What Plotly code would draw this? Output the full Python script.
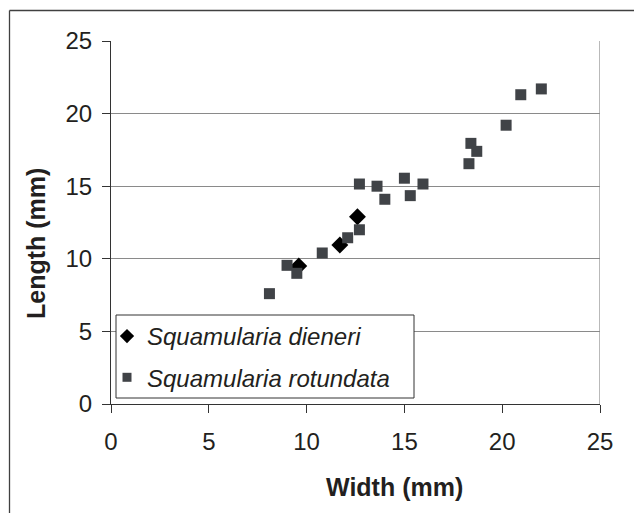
import plotly.graph_objects as go

# Data
dieneri_width = [9.6, 11.7, 12.6]
dieneri_length = [9.5, 10.95, 12.9]

rotundata_width = [8.1, 9.0, 9.5, 10.8, 12.1, 12.7, 12.7, 13.6, 14.0, 15.0, 15.3, 15.95,
                   18.3, 18.4, 18.7, 20.2, 20.95, 22.0]
rotundata_length = [7.6, 9.55, 9.0, 10.4, 11.45, 12.0, 15.15, 15.0, 14.1, 15.55, 14.35, 15.15,
                    16.55, 17.95, 17.4, 19.2, 21.3, 21.7]

series_names = ["Squamularia dieneri", "Squamularia rotundata"]
x_ticks = [0, 5, 10, 15, 20, 25]
y_ticks = [0, 5, 10, 15, 20, 25]

FONT = "Liberation Sans, Arial, sans-serif"
TXT = "#231f20"
SQ_COLOR = "#404347"

fig = go.Figure()
fig.add_trace(go.Scatter(
    x=dieneri_width, y=dieneri_length, mode="markers", name=series_names[0],
    showlegend=False,
    marker=dict(symbol="diamond", size=13, color="#000000", line=dict(width=0)),
))
fig.add_trace(go.Scatter(
    x=rotundata_width, y=rotundata_length, mode="markers", name=series_names[1],
    showlegend=False,
    marker=dict(symbol="square", size=11, color=SQ_COLOR, line=dict(width=0)),
))
# legend entries (smaller symbols, as in the reference legend)
fig.add_trace(go.Scatter(
    x=[None], y=[None], mode="markers", name=series_names[0], legendgroup="a",
    marker=dict(symbol="diamond", size=11, color="#000000", line=dict(width=0)),
))
fig.add_trace(go.Scatter(
    x=[None], y=[None], mode="markers", name=series_names[1], legendgroup="b",
    marker=dict(symbol="square", size=9, color=SQ_COLOR, line=dict(width=0)),
))

W, H = 634, 513
L, R, T, B = 111, 34, 41, 109
pw, ph = W - L - R, H - T - B

def px2paper_x(px):
    return (px - L) / pw

def px2paper_y(py):
    return (H - B - py) / ph

FRAME = dict(color="#404040", width=1.3)

fig.update_layout(
    width=W, height=H,
    margin=dict(l=L, r=R, t=T, b=B, autoexpand=False),
    paper_bgcolor="white", plot_bgcolor="white",
    font=dict(family=FONT, color=TXT, size=24),
    showlegend=True,
    legend=dict(
        x=px2paper_x(107), y=px2paper_y(314), xanchor="left", yanchor="top",
        borderwidth=0, bgcolor="rgba(0,0,0,0)",
        font=dict(family=FONT, size=24, color=TXT, style="italic"),
        tracegroupgap=7, itemwidth=30,
    ),
    xaxis=dict(
        range=[0, 25], tickvals=x_ticks, ticktext=[str(v) for v in x_ticks],
        showgrid=False, zeroline=False, showline=True, linecolor="#333333", linewidth=1,
        ticks="outside", ticklen=8, tickcolor="#333333", tickwidth=1,
        tickfont=dict(family=FONT, size=24, color=TXT), ticklabelstandoff=8,
        fixedrange=True,
    ),
    yaxis=dict(
        range=[0, 25], tickvals=y_ticks, ticktext=[str(v) for v in y_ticks],
        showgrid=True, gridcolor="#8a8a8a", gridwidth=1.2,
        zeroline=False, showline=True, linecolor="#333333", linewidth=1,
        ticks="outside", ticklen=8, tickcolor="#333333", tickwidth=1,
        tickfont=dict(family=FONT, size=24, color=TXT), ticklabelstandoff=5,
        fixedrange=True,
    ),
    shapes=[
        # right border of plot area
        dict(type="line", xref="x", yref="y", x0=25, x1=25, y0=0, y1=25,
             line=dict(color="#8a8a8a", width=1.2)),
        # legend box
        dict(type="rect", xref="paper", yref="paper",
             x0=px2paper_x(116), x1=px2paper_x(414),
             y0=px2paper_y(398), y1=px2paper_y(315),
             line=dict(color="#333333", width=1), fillcolor="white", layer="above"),
        # outer chart frame (cropped by the image edges): left and top sides
        dict(type="line", xref="paper", yref="paper",
             x0=px2paper_x(9.5), x1=px2paper_x(9.5),
             y0=px2paper_y(H + 20), y1=px2paper_y(10.5), line=FRAME),
        dict(type="line", xref="paper", yref="paper",
             x0=px2paper_x(9.5), x1=px2paper_x(W + 20),
             y0=px2paper_y(10.5), y1=px2paper_y(10.5), line=FRAME),
    ],
    annotations=[
        dict(text="<b>Width (mm)</b>", xref="paper", yref="paper",
             x=px2paper_x(394), y=px2paper_y(487), xanchor="center", yanchor="middle",
             showarrow=False, font=dict(family=FONT, size=25, color=TXT)),
        dict(text="<b>Length (mm)</b>", xref="paper", yref="paper",
             x=px2paper_x(36), y=px2paper_y(244), xanchor="center", yanchor="middle",
             textangle=-90, showarrow=False, font=dict(family=FONT, size=25, color=TXT)),
    ],
)

fig.write_html(
    "out.html",
    config={"displayModeBar": False, "staticPlot": True},
    post_script="document.body.style.margin='0';document.body.style.padding='0';document.body.style.overflow='hidden';",
)
